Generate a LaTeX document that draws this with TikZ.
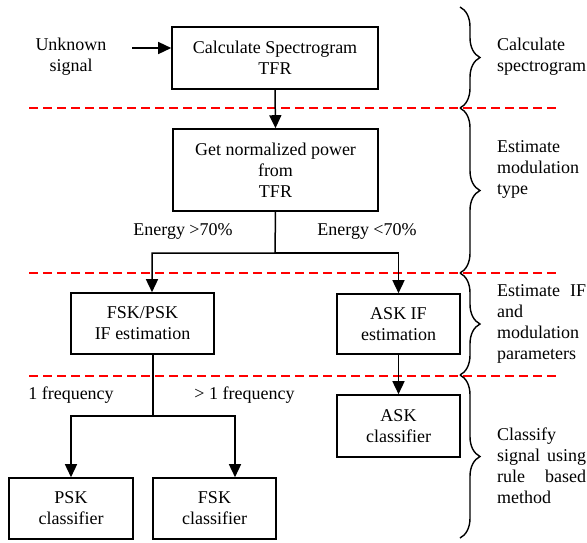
\documentclass[tikz,border=0pt]{standalone}
\usepackage{fontspec}
\setmainfont{Liberation Serif}
\usetikzlibrary{arrows.meta,decorations.pathreplacing}
\begin{document}
\begin{tikzpicture}[x=1pt,y=-1pt,
  every node/.style={font=\fontsize{18}{21}\selectfont},
  box/.style={draw, line width=1.6pt, align=center, inner sep=0pt},
  conn/.style={line width=1.5pt},
  arr/.style={conn, -{Triangle[length=13pt,width=12pt]}},
  sepline/.style={red, dash pattern=on 9pt off 5pt, line width=1.3pt},
  brc/.style={decorate, decoration={brace, amplitude=20pt}, line width=1.4pt},
  lbl/.style={align=center, inner sep=0pt},
  side/.style={text width=89pt, align=left, inner sep=0pt, anchor=west}]
\useasboundingbox (0,0) rectangle (587,542);

% boxes
\node[box, minimum width=206pt, minimum height=62pt] (b1) at (275,58) {Calculate Spectrogram\\TFR};
\node[box, minimum width=205pt, minimum height=82pt] (b2) at (275.5,170) {Get normalized power\\from\\TFR};
\node[box, minimum width=143pt, minimum height=61pt] (fp) at (142.5,323.5) {FSK/PSK\\IF estimation};
\node[box, minimum width=123pt, minimum height=60pt] (ask) at (398.5,324) {ASK IF\\estimation};
\node[box, minimum width=123pt, minimum height=62pt] (askc) at (398.5,426) {ASK\\classifier};
\node[box, minimum width=124pt, minimum height=61pt] (psk) at (71,508.5) {PSK\\classifier};
\node[box, minimum width=123pt, minimum height=61pt] (fsk) at (214.5,508.5) {FSK\\classifier};

% labels
\node[lbl] (unk) at (71,57) {Unknown\\signal};
\node[lbl] (e1) at (183,231) {Energy >70\%};
\node[lbl] (e2) at (367,231) {Energy <70\%};
\node[lbl] (f1) at (71,395) {1 frequency};
\node[lbl] (f2) at (244.5,395) {> 1 frequency};

% side texts
\node[side] (s1) at (497,57) {Calculate\\spectrogram};
\node[side] (s2) at (497,169.5) {Estimate\\modulation\\type};
\node[side] (s3) at (497,324) {Estimate\hfill IF\\and\\modulation\\parameters};
\node[side] (s4) at (497,466) {Classify\\signal\hfill using\\rule\hfill based\\method};

% separators
\draw[sepline] (29,108) -- (560,108);
\draw[sepline] (29,273) -- (560,273);
\draw[sepline] (29,376) -- (560,376);

% braces
\draw[brc] (460,7) -- (460,108);
\draw[brc] (460,108) -- (460,273);
\draw[brc] (460,273) -- (460,375);
\draw[brc] (460,375) -- (460,538);

% connectors
\coordinate (us) at (132,48);
\draw[arr] (us) -- (us -| b1.west);
\draw[arr] (b1.south) -- (b2.north);
\coordinate (j1) at (275,253);
\draw[arr] (b2.south) -- (j1) -| ([xshift=9.5pt]fp.north);
\draw[arr] (j1) -| (ask.north);
\coordinate (j2) at (153,416);
\draw[arr] ([xshift=10.5pt]fp.south) -- (j2) -| (psk.north);
\draw[arr] (j2) -| ([xshift=20.5pt]fsk.north);
\draw[arr] (ask.south) -- (askc.north);
\end{tikzpicture}
\end{document}
